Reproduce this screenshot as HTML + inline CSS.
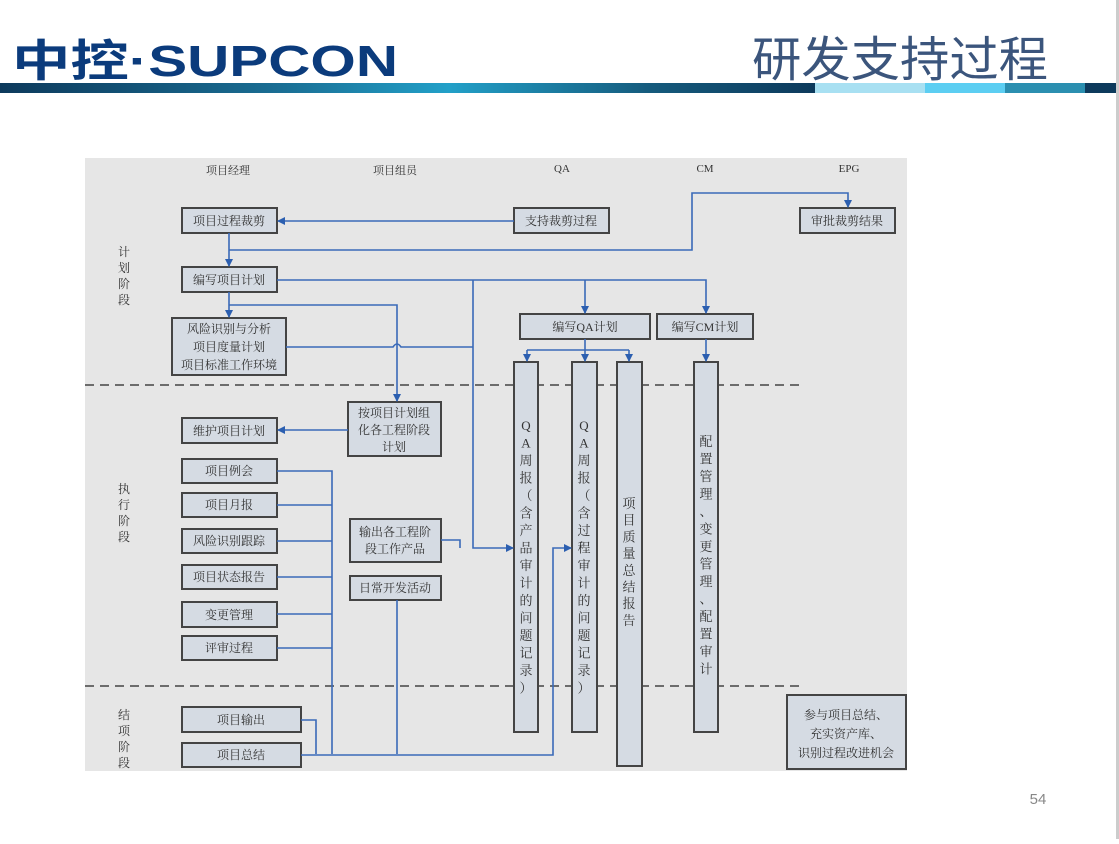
<!DOCTYPE html>
<html><head><meta charset="utf-8"><style>
body{margin:0;width:1119px;height:839px;background:#fff;overflow:hidden;font-family:"Liberation Serif","Noto Serif CJK SC",serif}
svg text{font-family:"Liberation Serif","Noto Serif CJK SC",serif;fill:#333}
</style></head><body>
<svg width="1119" height="839" viewBox="0 0 1119 839" xmlns="http://www.w3.org/2000/svg">
<defs>
<linearGradient id="bar" x1="0" x2="1"><stop offset="0" stop-color="#0d3a5c"/><stop offset="0.35" stop-color="#1a6f95"/><stop offset="0.55" stop-color="#22a0c8"/><stop offset="0.8" stop-color="#155a7c"/><stop offset="1" stop-color="#0d3a5c"/></linearGradient>
<marker id="a" markerWidth="8" markerHeight="8" refX="7" refY="4" orient="auto" markerUnits="userSpaceOnUse"><path d="M0,0 L8,4 L0,8 z" fill="#2c5fb0"/></marker>
</defs>
<text x="12" y="76" textLength="386" lengthAdjust="spacingAndGlyphs" style="font-family:'Liberation Sans','Noto Sans CJK SC',sans-serif;font-weight:bold;font-size:44px;fill:#0b3b7c">中控·SUPCON</text>
<text x="752" y="76" textLength="296" lengthAdjust="spacingAndGlyphs" style="font-family:'Liberation Sans','Noto Sans CJK SC',sans-serif;font-size:48px;fill:#3b557c">研发支持过程</text>
<rect x="0" y="83" width="815" height="10" fill="url(#bar)"/>
<rect x="815" y="83" width="110" height="10" fill="#a8e0f2"/>
<rect x="925" y="83" width="80" height="10" fill="#5ccef2"/>
<rect x="1005" y="83" width="80" height="10" fill="#2b8fb0"/>
<rect x="1085" y="83" width="34" height="10" fill="#0d3a5c"/>
<rect x="1116" y="0" width="3" height="839" fill="#ccc"/>
<rect x="85" y="158" width="822" height="613" fill="#e6e6e6"/>
<g font-size="11" text-anchor="middle">
<text x="228" y="174">项目经理</text><text x="395" y="174">项目组员</text><text x="562" y="172">QA</text><text x="705" y="172">CM</text><text x="849" y="172">EPG</text>
</g>
<g font-size="12" text-anchor="middle">
<text x="124" y="256">计</text><text x="124" y="272">划</text><text x="124" y="288">阶</text><text x="124" y="304">段</text>
<text x="124" y="493">执</text><text x="124" y="509">行</text><text x="124" y="525">阶</text><text x="124" y="541">段</text>
<text x="124" y="719">结</text><text x="124" y="735">项</text><text x="124" y="751">阶</text><text x="124" y="767">段</text>
</g>
<g stroke="#444" stroke-width="1.5" stroke-dasharray="9,6"><line x1="85" y1="385" x2="802" y2="385"/><line x1="85" y1="686" x2="802" y2="686"/></g>
<g fill="#d5dbe3" stroke="#444" stroke-width="2">
<rect x="182" y="208" width="95" height="25"/><rect x="514" y="208" width="95" height="25"/><rect x="800" y="208" width="95" height="25"/>
<rect x="182" y="267" width="95" height="25"/><rect x="172" y="318" width="114" height="57"/>
<rect x="520" y="314" width="130" height="25"/><rect x="657" y="314" width="96" height="25"/>
<rect x="348" y="402" width="93" height="54"/><rect x="182" y="418" width="95" height="25"/>
<rect x="182" y="459" width="95" height="24"/><rect x="182" y="493" width="95" height="24"/><rect x="182" y="529" width="95" height="24"/>
<rect x="182" y="565" width="95" height="24"/><rect x="182" y="602" width="95" height="25"/><rect x="182" y="636" width="95" height="24"/>
<rect x="350" y="519" width="91" height="43"/><rect x="350" y="576" width="91" height="24"/>
<rect x="182" y="707" width="119" height="25"/><rect x="182" y="743" width="119" height="24"/>
<rect x="787" y="695" width="119" height="74"/>
<rect x="514" y="362" width="24" height="370"/><rect x="572" y="362" width="25" height="370"/><rect x="617" y="362" width="25" height="404"/><rect x="694" y="362" width="24" height="370"/>
</g>
<g font-size="12" text-anchor="middle">
<text x="229" y="225">项目过程裁剪</text><text x="561" y="225">支持裁剪过程</text><text x="847" y="225">审批裁剪结果</text>
<text x="229" y="284">编写项目计划</text>
<text x="229" y="333">风险识别与分析</text><text x="229" y="351">项目度量计划</text><text x="229" y="369">项目标准工作环境</text>
<text x="585" y="331">编写QA计划</text><text x="705" y="331">编写CM计划</text>
<text x="394" y="417">按项目计划组</text><text x="394" y="434">化各工程阶段</text><text x="394" y="451">计划</text>
<text x="229" y="435">维护项目计划</text>
<text x="229" y="475">项目例会</text><text x="229" y="509">项目月报</text><text x="229" y="545">风险识别跟踪</text><text x="229" y="581">项目状态报告</text><text x="229" y="619">变更管理</text><text x="229" y="652">评审过程</text>
<text x="395" y="536">输出各工程阶</text><text x="395" y="553">段工作产品</text><text x="395" y="592">日常开发活动</text>
<text x="241" y="724">项目输出</text><text x="241" y="759">项目总结</text>
<text x="846" y="719">参与项目总结、</text><text x="846" y="738">充实资产库、</text><text x="846" y="757">识别过程改进机会</text>
</g>
<g font-size="13" text-anchor="middle">
<text x="526" y="430"><tspan x="526">Q</tspan><tspan x="526" dy="17.5">A</tspan><tspan x="526" dy="17.5">周</tspan><tspan x="526" dy="17.5">报</tspan><tspan x="526" dy="17.5">（</tspan><tspan x="526" dy="17.5">含</tspan><tspan x="526" dy="17.5">产</tspan><tspan x="526" dy="17.5">品</tspan><tspan x="526" dy="17.5">审</tspan><tspan x="526" dy="17.5">计</tspan><tspan x="526" dy="17.5">的</tspan><tspan x="526" dy="17.5">问</tspan><tspan x="526" dy="17.5">题</tspan><tspan x="526" dy="17.5">记</tspan><tspan x="526" dy="17.5">录</tspan><tspan x="526" dy="17.5">）</tspan></text>
<text x="584" y="430"><tspan x="584">Q</tspan><tspan x="584" dy="17.5">A</tspan><tspan x="584" dy="17.5">周</tspan><tspan x="584" dy="17.5">报</tspan><tspan x="584" dy="17.5">（</tspan><tspan x="584" dy="17.5">含</tspan><tspan x="584" dy="17.5">过</tspan><tspan x="584" dy="17.5">程</tspan><tspan x="584" dy="17.5">审</tspan><tspan x="584" dy="17.5">计</tspan><tspan x="584" dy="17.5">的</tspan><tspan x="584" dy="17.5">问</tspan><tspan x="584" dy="17.5">题</tspan><tspan x="584" dy="17.5">记</tspan><tspan x="584" dy="17.5">录</tspan><tspan x="584" dy="17.5">）</tspan></text>
<text x="629" y="508"><tspan x="629">项</tspan><tspan x="629" dy="16.7">目</tspan><tspan x="629" dy="16.7">质</tspan><tspan x="629" dy="16.7">量</tspan><tspan x="629" dy="16.7">总</tspan><tspan x="629" dy="16.7">结</tspan><tspan x="629" dy="16.7">报</tspan><tspan x="629" dy="16.7">告</tspan></text>
<text x="706" y="446"><tspan x="706">配</tspan><tspan x="706" dy="17.5">置</tspan><tspan x="706" dy="17.5">管</tspan><tspan x="706" dy="17.5">理</tspan><tspan x="706" dy="17.5">、</tspan><tspan x="706" dy="17.5">变</tspan><tspan x="706" dy="17.5">更</tspan><tspan x="706" dy="17.5">管</tspan><tspan x="706" dy="17.5">理</tspan><tspan x="706" dy="17.5">、</tspan><tspan x="706" dy="17.5">配</tspan><tspan x="706" dy="17.5">置</tspan><tspan x="706" dy="17.5">审</tspan><tspan x="706" dy="17.5">计</tspan></text>
</g>
<g stroke="#3a6ab8" stroke-width="1.6" fill="none">
<path d="M514,221 H278" marker-end="url(#a)"/>
<path d="M229,233 V266" marker-end="url(#a)"/>
<path d="M229,250 H692 V193 H848 V207" marker-end="url(#a)"/>
<path d="M277,280 H706 V313" marker-end="url(#a)"/>
<path d="M585,280 V313" marker-end="url(#a)"/>
<path d="M229,292 V317" marker-end="url(#a)"/>
<path d="M229,305 H397 V401" marker-end="url(#a)"/>
<path d="M286,347 H393 q4,-6 8,0 H473"/>
<path d="M473,280 V548 H513" marker-end="url(#a)"/>
<path d="M441,540 H460 V548"/>
<path d="M348,430 H278" marker-end="url(#a)"/>
<path d="M585,339 V350 M527,350 H629"/>
<path d="M527,350 V361" marker-end="url(#a)"/><path d="M585,350 V361" marker-end="url(#a)"/><path d="M629,350 V361" marker-end="url(#a)"/>
<path d="M706,339 V361" marker-end="url(#a)"/>
<path d="M277,471 H332 V754 M277,505 H332 M277,541 H332 M277,577 H332 M277,614 H332 M277,648 H332"/>
<path d="M301,720 H316 V754"/>
<path d="M301,755 H553 V548 H571" marker-end="url(#a)"/>
<path d="M397,600 V754"/>
</g>
<text x="1038" y="804" style="font-family:'Liberation Sans',sans-serif;font-size:15px;fill:#888" text-anchor="middle">54</text>
</svg>
</body></html>
